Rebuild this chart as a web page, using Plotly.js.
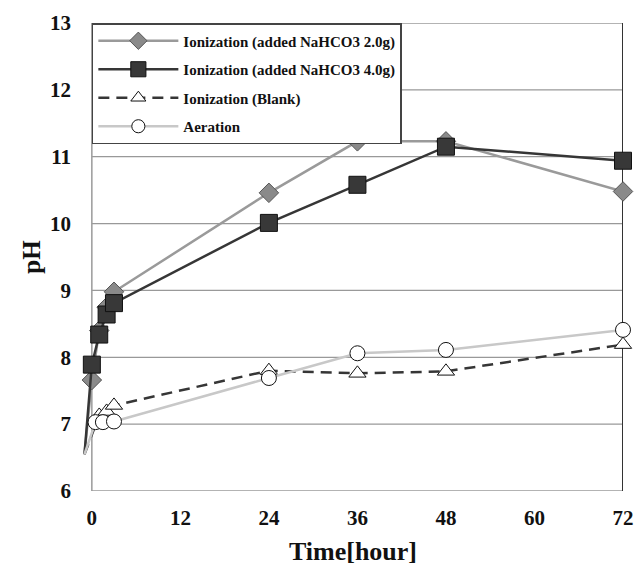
<!DOCTYPE html>
<html>
<head>
<meta charset="utf-8">
<script src="https://cdn.plot.ly/plotly-3.0.1.min.js"></script>
<style>html,body{margin:0;padding:0;background:#fff;}#chart{width:636px;height:571px;}</style>
</head>
<body>
<div id="chart"></div>
<script>
// Data (first point: start of the line, no marker)
const seriesNames = [
  "Ionization (added NaHCO3 2.0g)",
  "Ionization (added NaHCO3 4.0g)",
  "Ionization (Blank)",
  "Aeration"
];
const tIon2 = [-1, 0, 1, 2, 3, 24, 36, 48, 72];
const phIon2 = [6.55, 7.66, 8.40, 8.75, 8.98, 10.46, 11.23, 11.23, 10.48];
const tIon4 = [-1, 0, 1, 2, 3, 24, 36, 48, 72];
const phIon4 = [6.55, 7.89, 8.34, 8.64, 8.81, 10.01, 10.58, 11.15, 10.94];
const tBlank = [-1, 1, 2, 3, 24, 36, 48, 72];
const phBlank = [6.55, 7.13, 7.19, 7.28, 7.80, 7.76, 7.79, 8.19];
const tAer = [-1, 0.5, 1.5, 3, 24, 36, 48, 72];
const phAer = [6.55, 7.03, 7.03, 7.04, 7.69, 8.06, 8.11, 8.41];
const xTicks = [0, 12, 24, 36, 48, 60, 72];
const yTicks = [6, 7, 8, 9, 10, 11, 12, 13];

function sizes(n, s) { return Array.from({length: n}, (_, i) => i === 0 ? 0 : s); }

const FONT = "Liberation Serif, Times New Roman, serif";

const traces = [
  {
    x: tIon2, y: phIon2, name: seriesNames[0], legendgroup: "a",
    mode: "lines+markers", type: "scatter", cliponaxis: false,
    line: {color: "#9a9a9a", width: 2.5},
    marker: {symbol: "diamond", size: sizes(tIon2.length, 15), opacity: 1, color: "#8a8a8a", line: {color: "#555", width: 1}}
  },
  {
    x: tIon4, y: phIon4, name: seriesNames[1], legendgroup: "b",
    mode: "lines+markers", type: "scatter", cliponaxis: false,
    line: {color: "#363636", width: 2.5},
    marker: {symbol: "square", size: sizes(tIon4.length, 17), opacity: 1, color: "#383838", line: {color: "#111", width: 1}}
  },
  {
    x: tBlank, y: phBlank, name: seriesNames[2], legendgroup: "c",
    mode: "lines+markers", type: "scatter", cliponaxis: false,
    line: {color: "#363636", width: 2.5, dash: "11px,7px"},
    marker: {symbol: "triangle-up", size: sizes(tBlank.length, 15), opacity: 1, color: "#fff", line: {color: "#111", width: 1}}
  },
  {
    x: tAer, y: phAer, name: seriesNames[3], legendgroup: "d",
    mode: "lines+markers", type: "scatter", cliponaxis: false,
    line: {color: "#c8c8c8", width: 2.5},
    marker: {symbol: "circle", size: sizes(tAer.length, 15), opacity: 1, color: "#fff", line: {color: "#111", width: 1}}
  }
];

const xMin = -1.2, xMax = 72;
const shapes = [];
yTicks.slice(1, -1).forEach(v => shapes.push({
  type: "line", xref: "x", yref: "y", x0: 0, x1: xMax, y0: v, y1: v,
  line: {color: "#999", width: 1.2}, layer: "below"
}));
shapes.push({type: "line", xref: "x", yref: "y", x0: 0, x1: 0, y0: 6, y1: 13, line: {color: "#9a9a9a", width: 1.5}, layer: "below"});
shapes.push({type: "line", xref: "x", yref: "y", x0: 0, x1: xMax, y0: 13, y1: 13, line: {color: "#9a9a9a", width: 1.5}, layer: "below"});
shapes.push({type: "line", xref: "x", yref: "y", x0: 0, x1: xMax, y0: 6, y1: 6, line: {color: "#9a9a9a", width: 1.5}, layer: "below"});
shapes.push({type: "line", xref: "x", yref: "y", x0: xMax, x1: xMax, y0: 6, y1: 13, line: {color: "#333", width: 2}, layer: "below"});

const layout = {
  width: 636, height: 571,
  margin: {l: 83, r: 13, t: 23, b: 80},
  paper_bgcolor: "#fff", plot_bgcolor: "#fff",
  font: {family: FONT, color: "#111"},
  showlegend: true,
  xaxis: {
    range: [xMin, xMax], tickvals: xTicks, ticktext: xTicks.map(String),
    showgrid: false, zeroline: false, showline: false, ticks: "",
    tickfont: {family: FONT, size: 21, weight: "bold", color: "#111"},
    ticklabelstandoff: 12,
    title: {text: "Time[hour]", font: {family: FONT, size: 26, weight: "bold", color: "#111"}, standoff: 12},
    automargin: false
  },
  yaxis: {
    range: [6, 13], tickvals: yTicks, ticktext: yTicks.map(String),
    showgrid: false, zeroline: false, showline: false, ticks: "",
    tickfont: {family: FONT, size: 21, weight: "bold", color: "#111"},
    ticklabelstandoff: 11,
    title: {text: "pH", font: {family: FONT, size: 25, weight: "bold", color: "#111"}, standoff: 2},
    automargin: false
  },
  legend: {
    x: (0 - xMin) / (xMax - xMin), y: 1, xanchor: "left", yanchor: "top",
    bgcolor: "#fff", bordercolor: "#444", borderwidth: 1.5,
    font: {family: FONT, size: 15, weight: "bold", color: "#111"},
    traceorder: "grouped", tracegroupgap: 6, itemwidth: 80
  },
  shapes: shapes
};

Plotly.newPlot("chart", traces, layout, {displayModeBar: false, staticPlot: true});
</script>
</body>
</html>
